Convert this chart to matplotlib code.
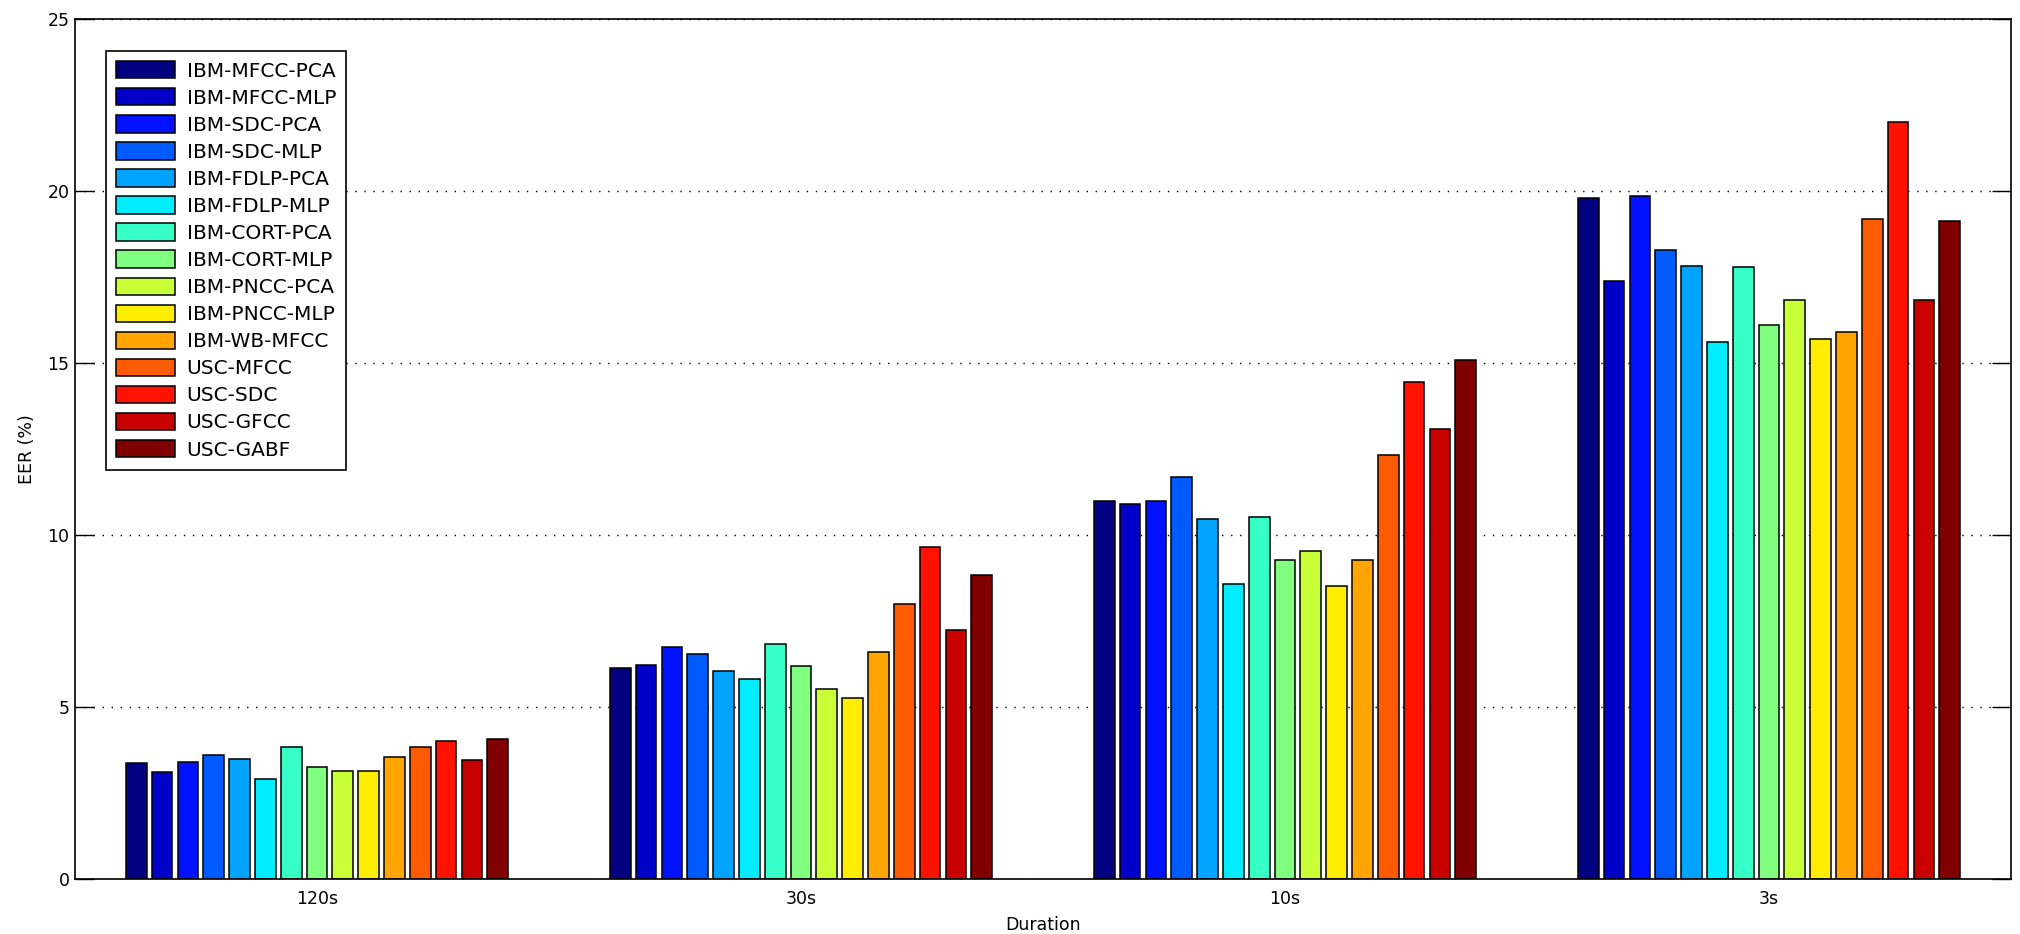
import numpy as np
import matplotlib.pyplot as plt

plt.rcParams['font.family'] = ['DejaVu Sans']

durations = ['120s', '30s', '10s', '3s']
systems = ['IBM-MFCC-PCA', 'IBM-MFCC-MLP', 'IBM-SDC-PCA', 'IBM-SDC-MLP',
           'IBM-FDLP-PCA', 'IBM-FDLP-MLP', 'IBM-CORT-PCA', 'IBM-CORT-MLP',
           'IBM-PNCC-PCA', 'IBM-PNCC-MLP', 'IBM-WB-MFCC', 'USC-MFCC',
           'USC-SDC', 'USC-GFCC', 'USC-GABF']

# EER (%) per system, one list per duration
eer_120s = [3.36, 3.11, 3.41, 3.60, 3.50, 2.91, 3.85, 3.25, 3.15, 3.15, 3.55, 3.85, 4.01, 3.46, 4.06]
eer_30s = [6.13, 6.23, 6.74, 6.54, 6.04, 5.82, 6.84, 6.18, 5.52, 5.27, 6.59, 7.99, 9.65, 7.24, 8.85]
eer_10s = [10.98, 10.89, 10.98, 11.68, 10.46, 8.57, 10.53, 9.27, 9.53, 8.52, 9.27, 12.34, 14.45, 13.09, 15.10]
eer_3s = [19.81, 17.38, 19.85, 18.29, 17.83, 15.60, 17.78, 16.11, 16.82, 15.71, 15.91, 19.20, 22.02, 16.82, 19.14]

data = np.array([eer_120s, eer_30s, eer_10s, eer_3s])  # (durations, systems)
n = len(systems)

# matlab style jet (differs a bit from matplotlib's jet)
t = np.linspace(0, 1, n)
r = np.interp(t, [0, 3/8, 5/8, 7/8, 1], [0, 0, 1, 1, 0.5])
g = np.interp(t, [0, 1/8, 3/8, 5/8, 7/8, 1], [0, 0, 1, 1, 0, 0])
b = np.interp(t, [0, 1/8, 3/8, 5/8, 1], [0.5, 1, 1, 0, 0])
colors = np.column_stack([r, g, b])

fig = plt.figure(figsize=(20.2, 9.34), dpi=100)
ax = fig.add_axes([75/2020, 1-879/934, 1936/2020, 860/934])

x = np.arange(1, len(durations)+1)
pitch = 0.8/n
for i in range(n):
    ax.bar(x - 0.4 + pitch*(i+0.5), data[:, i], width=pitch*0.8,
           color=colors[i], edgecolor='black', linewidth=1.1, label=systems[i])

ax.set_xlim(0.5, 4.5)
ax.set_ylim(0, 25)
ax.set_xticks(x)
ax.set_xticklabels(durations)
ax.set_yticks([0, 5, 10, 15, 20, 25])
ax.tick_params(direction='in', length=14, width=1, right=True, labelsize=12.5)
ax.tick_params(axis='x', pad=8)
ax.tick_params(axis='y', pad=4)
ax.set_axisbelow(True)
ax.yaxis.grid(True, linestyle=(0, (1, 5.5)), color='black', linewidth=1)
for s in ax.spines.values():
    s.set_linewidth(1.2)

ax.set_xlabel('Duration', fontsize=12.5, labelpad=6)
ax.set_ylabel('EER (%)', fontsize=12.5, labelpad=8)

leg = ax.legend(loc='upper left', bbox_to_anchor=(31/1936, 1-32/860),
                borderaxespad=0, fontsize=14.5, handlelength=2.95, handleheight=0.95,
                labelspacing=0.37, handletextpad=0.55, borderpad=0.5,
                fancybox=False, edgecolor='black', framealpha=1)
leg.get_frame().set_linewidth(1.2)

fig.savefig('out.png', dpi=100)
